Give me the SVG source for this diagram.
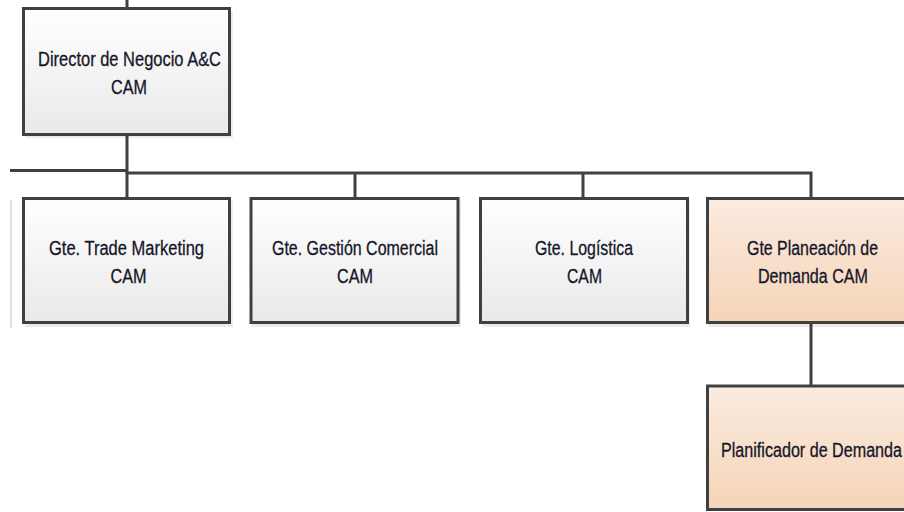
<svg xmlns="http://www.w3.org/2000/svg" width="904" height="512" viewBox="0 0 904 512">
<defs>
<linearGradient id="gGray" x1="0" y1="0" x2="0" y2="1">
<stop offset="0" stop-color="#ffffff"/>
<stop offset="1" stop-color="#e9e9e9"/>
</linearGradient>
<linearGradient id="gOrange" x1="0" y1="0" x2="0" y2="1">
<stop offset="0" stop-color="#fbebe0"/>
<stop offset="1" stop-color="#f5d4b7"/>
</linearGradient>
<style>
.box{stroke:#404040;stroke-width:3}
.gray{fill:url(#gGray)}
.orange{fill:url(#gOrange)}
.shadow{fill:#000;opacity:0.08}
.lbl{font-family:"Liberation Sans Narrow","Liberation Sans",Arial,sans-serif;font-size:20px;fill:#16162a;stroke:#16162a;stroke-width:0.3}
.mid{text-anchor:middle}
.conn{stroke:#404040;stroke-width:3;fill:none}
</style>
</defs>
<rect width="904" height="512" fill="#ffffff"/>
<line x1="11" y1="200" x2="11" y2="328" stroke="#e2e2e2" stroke-width="2"/>
<g id="connectors">
<line class="conn" x1="127" y1="0" x2="127" y2="9"/>
<line class="conn" x1="127" y1="135" x2="127" y2="173"/>
<line class="conn" x1="10" y1="170.5" x2="127" y2="170.5"/>
<polyline class="conn" points="127,198 127,173 811,173 811,198"/>
<line class="conn" x1="355" y1="173" x2="355" y2="198"/>
<line class="conn" x1="583" y1="173" x2="583" y2="198"/>
<line class="conn" x1="811" y1="323" x2="811" y2="386"/>
</g>
<g id="director">
<rect class="shadow" x="25" y="11" width="208" height="127"/>
<rect class="box gray" x="23.5" y="8.5" width="206" height="126"/>
<text class="lbl mid" x="129.5" y="66" textLength="183" lengthAdjust="spacingAndGlyphs">Director de Negocio A&amp;C</text>
<text class="lbl mid" x="129" y="94" textLength="36" lengthAdjust="spacingAndGlyphs">CAM</text>
</g>
<g id="trade">
<rect class="shadow" x="25" y="201" width="208" height="126"/>
<rect class="box gray" x="23.5" y="198.5" width="206" height="124"/>
<text class="lbl mid" x="126.5" y="255" textLength="155" lengthAdjust="spacingAndGlyphs">Gte. Trade Marketing</text>
<text class="lbl mid" x="128.5" y="283" textLength="36" lengthAdjust="spacingAndGlyphs">CAM</text>
</g>
<g id="gestion">
<rect class="shadow" x="252" y="201" width="209" height="126"/>
<rect class="box gray" x="251" y="198.5" width="207" height="124"/>
<text class="lbl mid" x="355" y="255" textLength="166" lengthAdjust="spacingAndGlyphs">Gte. Gestión Comercial</text>
<text class="lbl mid" x="355" y="283" textLength="36" lengthAdjust="spacingAndGlyphs">CAM</text>
</g>
<g id="logistica">
<rect class="shadow" x="482" y="201" width="208" height="126"/>
<rect class="box gray" x="480.5" y="198.5" width="207" height="124"/>
<text class="lbl mid" x="584" y="255" textLength="98" lengthAdjust="spacingAndGlyphs">Gte. Logística</text>
<text class="lbl mid" x="584.5" y="283" textLength="35" lengthAdjust="spacingAndGlyphs">CAM</text>
</g>
<g id="planeacion">
<rect class="shadow" x="709" y="201" width="210" height="126"/>
<rect class="box orange" x="707.5" y="198.5" width="210" height="124"/>
<text class="lbl mid" x="812.5" y="255" textLength="131" lengthAdjust="spacingAndGlyphs">Gte Planeación de</text>
<text class="lbl mid" x="813" y="283" textLength="110" lengthAdjust="spacingAndGlyphs">Demanda CAM</text>
</g>
<g id="planificador">
<rect class="box orange" x="707.5" y="386" width="210" height="123.5"/>
<text class="lbl" x="721" y="457" textLength="181" lengthAdjust="spacingAndGlyphs">Planificador de Demanda</text>
</g>
</svg>
